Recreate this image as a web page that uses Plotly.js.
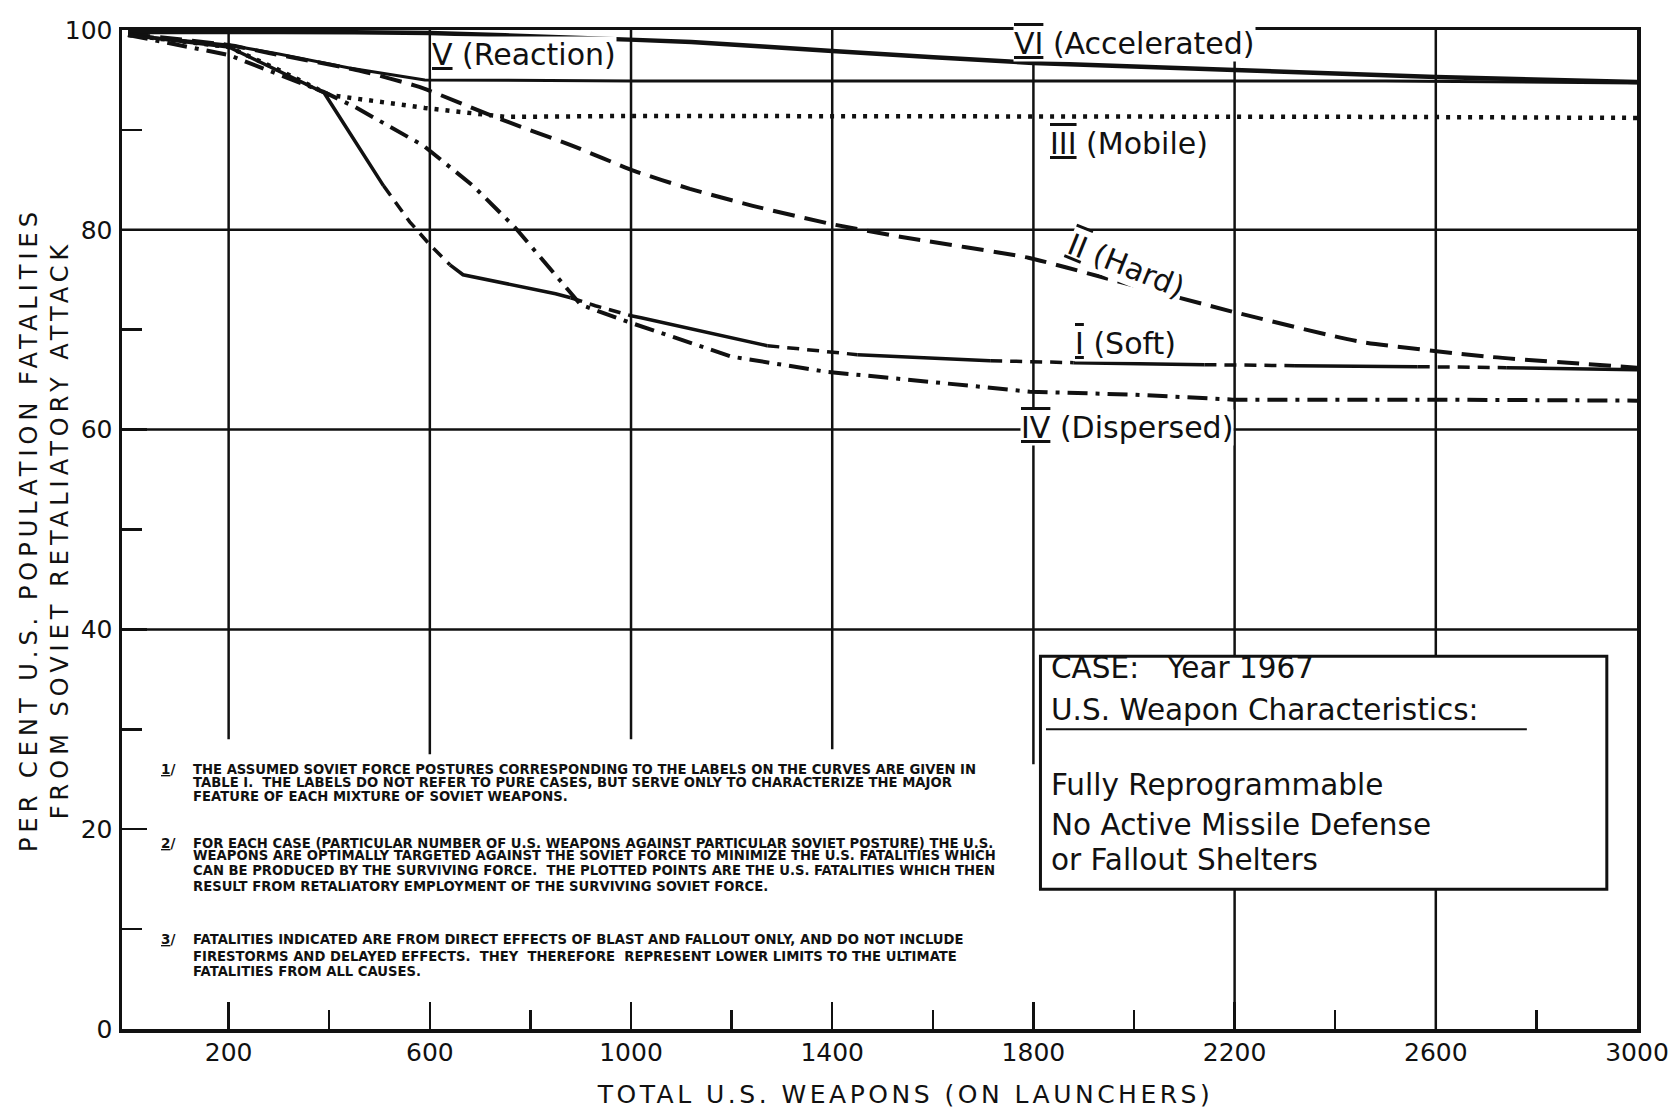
<!DOCTYPE html>
<html>
<head>
<meta charset="utf-8">
<script src="https://cdn.plot.ly/plotly-3.0.1.min.js"></script>
<style>
html,body{margin:0;padding:0;background:#fff;}
#chart{width:1678px;height:1115px;}
</style>
</head>
<body>
<div id="chart"></div>
<script>
// ---------------- data ----------------
const xTickValues = [200, 600, 1000, 1400, 1800, 2200, 2600, 3000];
const xTickLabels = ['200', '600', '1000', '1400', '1800', '2200', '2600', '3000'];
const xMinorTicks = [400, 800, 1200, 1600, 2000, 2400, 2800];
const yTickValues = [0, 20, 40, 60, 80, 100];
const yTickLabels = ['0', '20', '40', '60', '80', '100'];
const yMinorTicks = [10, 30, 50, 70, 90];

// VI (Accelerated)
const acceleratedX = [0, 300, 600, 900, 1120, 1400, 1800, 2200, 2600, 3000];
const acceleratedY = [99.8, 99.8, 99.7, 99.2, 98.8, 97.9, 96.7, 96.0, 95.3, 94.8];

// V (Reaction)
const reactionX = [0, 200, 300, 440, 590, 1000, 1500, 2000, 2500, 3000];
const reactionY = [99.5, 98.5, 97.6, 96.2, 95.0, 94.9, 94.9, 94.9, 94.9, 94.7];

// III (Mobile)
const mobileX = [0, 200, 300, 400, 590, 750, 1000, 1500, 2000, 2500, 3000];
const mobileY = [99.5, 98.3, 96.0, 93.5, 92.2, 91.3, 91.4, 91.4, 91.3, 91.3, 91.2];

// II (Hard)
const hardX = [0, 200, 280, 463, 579, 739, 884, 1006, 1117, 1242, 1396, 1535, 1790, 1941, 2196, 2449, 2704, 3000];
const hardY = [99.6, 98.5, 97.7, 95.9, 94.3, 91.1, 88.4, 85.9, 84.1, 82.4, 80.6, 79.3, 77.2, 75.2, 71.8, 68.8, 67.3, 66.2];

// I (Soft) - drawn partly solid, partly dashed
const softX = [0, 200, 390, 508, 560, 600, 640, 666, 850, 880, 929, 1000, 1020, 1271, 1450, 1714, 1880, 2140, 2320, 2564, 2740, 3000];
const softY = [99.5, 98.3, 93.7, 84.4, 80.8, 78.5, 76.5, 75.5, 73.6, 73.2, 72.4, 71.4, 71.2, 68.4, 67.5, 66.9, 66.7, 66.5, 66.4, 66.3, 66.2, 66.0];
const softDashedSpans = [[508, 640], [880, 1000], [1271, 1450], [1714, 1880], [2140, 2320], [2564, 2740]];

// IV (Dispersed)
const dispersedX = [0, 200, 389, 451, 588, 686, 770, 849, 900, 993, 1200, 1387, 1600, 1793, 2000, 2196, 2577, 3000];
const dispersedY = [99.5, 97.5, 93.8, 92.3, 88.4, 84.4, 80.2, 75.6, 72.5, 70.8, 67.3, 65.8, 64.7, 63.8, 63.5, 63.0, 63.0, 62.9];

// grid of the original drawing
const gridY = [40, 60, 80];
const vGridX = [200, 600, 1000, 1400, 1800, 2200, 2600];
const vGridBottom = [29, 27.5, 29, 28, 26.5, 0, 0];

// texts
const curveLabels = [
  '<span style="text-decoration:underline">V</span> (Reaction)',
  '<span style="text-decoration:underline overline">VI</span> (Accelerated)',
  '<span style="text-decoration:underline overline">III</span> (Mobile)',
  '<span style="text-decoration:underline overline">II</span> (Hard)',
  '<span style="text-decoration:underline overline">I</span> (Soft)',
  '<span style="text-decoration:underline overline">IV</span> (Dispersed)'
];
const caseLines = [
  'CASE:   Year 1967',
  'U.S. Weapon Characteristics:',
  'Fully Reprogrammable',
  'No Active Missile Defense',
  'or Fallout Shelters'
];
const noteMarkers = ['<u>1</u>/', '<u>2</u>/', '<u>3</u>/'];
const noteLines = [
  ['THE ASSUMED SOVIET FORCE POSTURES CORRESPONDING TO THE LABELS ON THE CURVES ARE GIVEN IN',
   'TABLE I.  THE LABELS DO NOT REFER TO PURE CASES, BUT SERVE ONLY TO CHARACTERIZE THE MAJOR',
   'FEATURE OF EACH MIXTURE OF SOVIET WEAPONS.'],
  ['FOR EACH CASE (PARTICULAR NUMBER OF U.S. WEAPONS AGAINST PARTICULAR SOVIET POSTURE) THE U.S.',
   'WEAPONS ARE OPTIMALLY TARGETED AGAINST THE SOVIET FORCE TO MINIMIZE THE U.S. FATALITIES WHICH',
   'CAN BE PRODUCED BY THE SURVIVING FORCE.  THE PLOTTED POINTS ARE THE U.S. FATALITIES WHICH THEN',
   'RESULT FROM RETALIATORY EMPLOYMENT OF THE SURVIVING SOVIET FORCE.'],
  ['FATALITIES INDICATED ARE FROM DIRECT EFFECTS OF BLAST AND FALLOUT ONLY, AND DO NOT INCLUDE',
   'FIRESTORMS AND DELAYED EFFECTS.  THEY  THEREFORE  REPRESENT LOWER LIMITS TO THE ULTIMATE',
   'FATALITIES FROM ALL CAUSES.']
];
const xTitle = 'TOTAL U.S. WEAPONS (ON LAUNCHERS)';
const yTitle = 'PER CENT U.S. POPULATION FATALITIES<br>FROM SOVIET RETALIATORY ATTACK';

// ---------------- layout / styling ----------------
const INK = '#111111';
const FONT = 'DejaVu Sans, Verdana, sans-serif';

const labelPos = [[788, 97.5], [2000, 98.65], [1990, 88.6], [1984, 76.4], [1984, 68.6], [1986, 60.2]];
const labelAngle = [0, 0, 0, 22, 0, 0];
const casePosX = 1831;
const casePosY = [36.1, 31.9, 24.4, 20.4, 16.9];
const noteMarkerX = 62, noteTextX = 126;
const notePosY = [[26.0, 24.7, 23.3], [18.6, 17.4, 15.9, 14.3], [9.0, 7.3, 5.8]];

function splitSegments(xs, ys, spans) {
  const solid = {x: [], y: []}, dashed = {x: [], y: []};
  let prev = null;
  for (let i = 0; i < xs.length - 1; i++) {
    const mid = (xs[i] + xs[i + 1]) / 2;
    const isDash = spans.some(s => mid > s[0] && mid < s[1]);
    const t = isDash ? dashed : solid;
    if (prev === isDash) {
      t.x.push(xs[i + 1]); t.y.push(ys[i + 1]);
    } else {
      if (t.x.length) { t.x.push(null); t.y.push(null); }
      t.x.push(xs[i], xs[i + 1]); t.y.push(ys[i], ys[i + 1]);
    }
    prev = isDash;
  }
  return {solid, dashed};
}
const soft = splitSegments(softX, softY, softDashedSpans);

function lineTrace(x, y, name, width, dash, shape) {
  return {type: 'scatter', mode: 'lines', x: x, y: y, name: name, connectgaps: false,
          line: {color: INK, width: width, dash: dash, shape: shape || 'linear', smoothing: 0.5}, hoverinfo: 'skip'};
}

const traces = [
  lineTrace(acceleratedX, acceleratedY, 'VI (Accelerated)', 4.5, 'solid', 'spline'),
  lineTrace(reactionX, reactionY, 'V (Reaction)', 3, 'solid'),
  lineTrace(mobileX, mobileY, 'III (Mobile)', 4.5, '4px,7px'),
  lineTrace(hardX, hardY, 'II (Hard)', 4, '22px,10px', 'spline'),
  lineTrace(soft.solid.x, soft.solid.y, 'I (Soft)', 3.5, 'solid'),
  lineTrace(soft.dashed.x, soft.dashed.y, 'I (Soft) dashed part', 3.5, '12px,8px'),
  lineTrace(dispersedX, dispersedY, 'IV (Dispersed)', 4, '20px,8px,4px,8px')
];

const shapes = [];
gridY.forEach(v => shapes.push({type: 'line', xref: 'x', yref: 'y', x0: -12, x1: 3000, y0: v, y1: v,
  line: {color: INK, width: 2.5}, layer: 'below'}));
vGridX.forEach((v, i) => shapes.push({type: 'line', xref: 'x', yref: 'y', x0: v, x1: v, y0: vGridBottom[i], y1: 100,
  line: {color: INK, width: 2.5}, layer: 'below'}));
// case box
shapes.push({type: 'rect', xref: 'x', yref: 'y', x0: 1814, x1: 2940, y0: 14, y1: 37.3,
  fillcolor: '#ffffff', line: {color: INK, width: 3}, layer: 'above'});
shapes.push({type: 'line', xref: 'x', yref: 'y', x0: 1825, x1: 2781, y0: 30.0, y1: 30.0,
  line: {color: INK, width: 2}, layer: 'above'});

const annotations = [];
curveLabels.forEach((t, i) => annotations.push({
  text: t, x: labelPos[i][0], y: labelPos[i][1], xref: 'x', yref: 'y', showarrow: false,
  textangle: labelAngle[i], font: {family: FONT, size: 30, color: INK},
  bgcolor: '#ffffff', borderpad: 0
}));
caseLines.forEach((t, i) => annotations.push({
  text: t, x: casePosX, y: casePosY[i], xref: 'x', yref: 'y', showarrow: false,
  xanchor: 'left', yanchor: 'middle', font: {family: FONT, size: 29.5, color: INK}
}));
noteLines.forEach((lines, n) => {
  annotations.push({text: noteMarkers[n], x: noteMarkerX, y: notePosY[n][0], xref: 'x', yref: 'y',
    showarrow: false, xanchor: 'left', yanchor: 'middle',
    font: {family: FONT, size: 13.5, color: INK, weight: 700}});
  lines.forEach((t, k) => annotations.push({
    text: t, x: noteTextX, y: notePosY[n][k], xref: 'x', yref: 'y', showarrow: false,
    xanchor: 'left', yanchor: 'middle', font: {family: FONT, size: 13.2, color: INK, weight: 700}
  }));
});

const axisCommon = {
  showgrid: false, zeroline: false, showline: true, linewidth: 3.5, linecolor: INK, mirror: true,
  ticks: 'inside', tickwidth: 2.5, tickcolor: INK, tickmode: 'array',
  tickfont: {family: FONT, size: 25, color: INK}
};

const layout = {
  width: 1678, height: 1115,
  margin: {l: 122, r: 41, t: 30, b: 86, pad: 0},
  paper_bgcolor: '#ffffff', plot_bgcolor: '#ffffff',
  showlegend: false, hovermode: false,
  font: {family: FONT, color: INK},
  xaxis: Object.assign({}, axisCommon, {
    range: [-12, 3000], tickvals: xTickValues, ticktext: xTickLabels, ticklen: 27,
    ticklabelstandoff: -2,
    minor: {tickmode: 'array', tickvals: xMinorTicks, ticks: 'inside', ticklen: 19, tickwidth: 2.5, tickcolor: INK, showgrid: false},
    title: {text: xTitle, font: {family: FONT, size: 25, color: INK}, standoff: 21}
  }),
  yaxis: Object.assign({}, axisCommon, {
    range: [0, 100], tickvals: yTickValues, ticktext: yTickLabels, ticklen: 25,
    ticklabelstandoff: 1,
    minor: {tickmode: 'array', tickvals: yMinorTicks, ticks: 'inside', ticklen: 20, tickwidth: 2.5, tickcolor: INK, showgrid: false},
    title: {text: yTitle, font: {family: FONT, size: 24, color: INK}, standoff: 0}
  }),
  shapes: shapes,
  annotations: annotations
};

Plotly.newPlot('chart', traces, layout, {staticPlot: true, displayModeBar: false}).then(() => {
  document.querySelectorAll('.g-xtitle text').forEach(t => t.setAttribute('letter-spacing', '3.5'));
  document.querySelectorAll('.g-ytitle text').forEach(t => t.setAttribute('letter-spacing', '5'));
  const gx = document.querySelector('.g-xtitle');
  if (gx) gx.setAttribute('transform', 'translate(26,0)');
  const gy = document.querySelector('.g-ytitle');
  if (gy) gy.setAttribute('transform', 'translate(10,0)');
});
</script>
</body>
</html>
